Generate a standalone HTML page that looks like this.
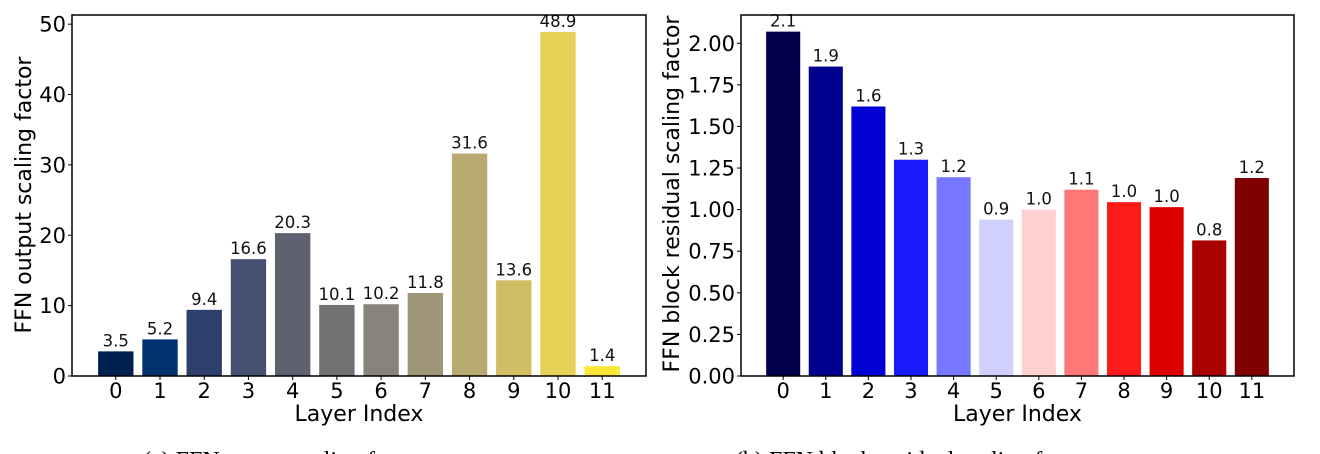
<!DOCTYPE html>
<html><head><meta charset="utf-8"><style>
html,body{margin:0;padding:0;background:#fff;}
svg{display:block;font-family:"DejaVu Sans","Liberation Sans",sans-serif;}
</style></head><body>
<svg id="fig" width="1320" height="454" viewBox="0 0 1320 454"></svg>
<script>
const categories = ["0","1","2","3","4","5","6","7","8","9","10","11"];
const ffnOutputValues = [3.5,5.2,9.4,16.6,20.3,10.1,10.2,11.8,31.6,13.6,48.9,1.4];
const ffnOutputLabels = ["3.5","5.2","9.4","16.6","20.3","10.1","10.2","11.8","31.6","13.6","48.9","1.4"];
const ffnOutputTicks = [0,10,20,30,40,50];
const residualValues = [2.07,1.86,1.62,1.30,1.195,0.94,1.0,1.12,1.045,1.015,0.815,1.19];
const residualLabels = ["2.1","1.9","1.6","1.3","1.2","0.9","1.0","1.1","1.0","1.0","0.8","1.2"];
const residualTicks = ["0.00","0.25","0.50","0.75","1.00","1.25","1.50","1.75","2.00"];
const leftColors = ["#002051","#023370","#2d3f6b","#465070","#5d6170","#707173","#878479","#9f9677","#b8aa70","#d1bd64","#e6d055","#fde737"];
const rightColors = ["#00004c","#00008e","#0000d4","#1a1aff","#7777ff","#d0d0ff","#ffd0d0","#ff7777","#ff1a1a","#dd0000","#a90000","#800000"];

const NS="http://www.w3.org/2000/svg";
const svg=document.getElementById('fig');
function mk(tag,attrs,parent){const e=document.createElementNS(NS,tag);for(const k in attrs)e.setAttribute(k,attrs[k]);(parent||svg).appendChild(e);return e;}

function drawChart(cfg){
  const g=mk('g',{});
  
  
  const L=cfg.x0,R=cfg.x1,T=15,B=376;
  const n=categories.length;
  const xmin=-0.99,xmax=n-1+0.99;
  const xs=v=>L+(v-xmin)/(xmax-xmin)*(R-L);
  const ys=v=>B-(v/cfg.ymax)*(B-T);
  const bw=0.8*(R-L)/(xmax-xmin);
  cfg.values.forEach((v,i)=>{
    const r=mk('rect',{x:xs(i)-bw/2,y:ys(v),width:bw,height:B-ys(v),fill:cfg.colors[i]},g);
    
    
    const t=mk('text',{x:xs(i),y:ys(v)-5,'text-anchor':'middle','font-size':'16.5',fill:'#111'},g);
    t.textContent=cfg.labels[i];
    
    
    mk('line',{x1:xs(i),x2:xs(i),y1:B,y2:B+4,stroke:'#000','stroke-width':1},g);
    const xl=mk('text',{x:xs(i),y:B+22,'text-anchor':'middle','font-size':'21',fill:'#000'},g);
    xl.textContent=categories[i];
    
    
  });
  cfg.ticks.forEach(tv=>{
    const v=parseFloat(tv);
    mk('line',{x1:L-4,x2:L,y1:ys(v),y2:ys(v),stroke:'#000','stroke-width':1},g);
    const t=mk('text',{x:L-6,y:ys(v)+7.5,'text-anchor':'end','font-size':'21',fill:'#000'},g);
    t.textContent=tv;
    
    
  });
  const fr=mk('rect',{x:L,y:T,width:R-L,height:B-T,fill:'none',stroke:'#000','stroke-width':1.5},g);
  
  
  const xt=mk('text',{x:(L+R)/2,y:421,'text-anchor':'middle','font-size':'22',fill:'#000'},g);
  xt.textContent='Layer Index';
  
  
  const yt=mk('text',{x:0,y:0,'text-anchor':'middle','font-size':cfg.ylabSize,fill:'#000',transform:`translate(${cfg.ylabX},${cfg.ylabY}) rotate(-90)`},g);
  yt.textContent=cfg.ylabel;
  
  
  const cap=mk('text',{x:cfg.capX,y:468,'text-anchor':'start','font-size':'24','font-family':'"Liberation Serif",serif',fill:'#000'},g);
  cap.textContent=cfg.caption;
  
  
}
drawChart({name:'ffn-output-chart',x0:72,x1:646,ymax:51.3,values:ffnOutputValues,labels:ffnOutputLabels,ticks:ffnOutputTicks.map(String),colors:leftColors,ylabel:'FFN output scaling factor',ylabX:31,ylabY:195,ylabSize:'22',capX:143,caption:'(a) FFN output scaling factor'});
drawChart({name:'ffn-residual-chart',x0:741,x1:1294,ymax:2.17,values:residualValues,labels:residualLabels,ticks:residualTicks,colors:rightColors,ylabel:'FFN block residual scaling factor',ylabX:679,ylabY:194,ylabSize:'22',capX:735,caption:'(b) FFN block residual scaling factor α'});
</script>
</body></html>
